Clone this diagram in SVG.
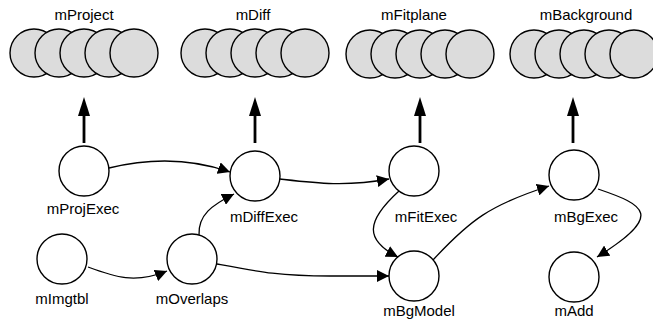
<svg xmlns="http://www.w3.org/2000/svg" width="653" height="320" viewBox="0 0 653 320">
<defs>
<style>
.lbl{font-family:"Liberation Sans",Arial,sans-serif;font-size:15px;fill:#000;text-anchor:middle}
.f{fill:#dcdcdc;stroke:#000;stroke-width:1.4}
.n{fill:#fff;stroke:#000;stroke-width:1.4}
.e{fill:none;stroke:#000;stroke-width:1.3}
.up{stroke:#000;stroke-width:2.8}
</style>
<marker id="ah" viewBox="0 0 10 10" refX="10" refY="5" markerWidth="12" markerHeight="12" markerUnits="userSpaceOnUse" orient="auto">
<path d="M0,0 L10,5 L0,10 z" fill="#000"/>
</marker>
<marker id="big" viewBox="0 0 19 12" refX="0" refY="6" markerWidth="19" markerHeight="12" markerUnits="userSpaceOnUse" orient="auto">
<path d="M0,0 L19,6 L0,12 z" fill="#000"/>
</marker>
</defs>
<g id="mProject">
<circle class="f" cx="34" cy="53" r="24"/><circle class="f" cx="59" cy="53" r="24"/><circle class="f" cx="84" cy="53" r="24"/><circle class="f" cx="109" cy="53" r="24"/><circle class="f" cx="134" cy="53" r="24"/>
<text class="lbl" x="84" y="20">mProject</text>
</g>
<g id="mDiff">
<circle class="f" cx="205" cy="53" r="24"/><circle class="f" cx="230" cy="53" r="24"/><circle class="f" cx="255" cy="53" r="24"/><circle class="f" cx="280" cy="53" r="24"/><circle class="f" cx="305" cy="53" r="24"/>
<text class="lbl" x="253" y="20">mDiff</text>
</g>
<g id="mFitplane">
<circle class="f" cx="370" cy="54" r="24"/><circle class="f" cx="395" cy="54" r="24"/><circle class="f" cx="420" cy="54" r="24"/><circle class="f" cx="445" cy="54" r="24"/><circle class="f" cx="470" cy="54" r="24"/>
<text class="lbl" x="414" y="20">mFitplane</text>
</g>
<g id="mBackground">
<circle class="f" cx="534" cy="54" r="24"/><circle class="f" cx="559" cy="54" r="24"/><circle class="f" cx="584" cy="54" r="24"/><circle class="f" cx="609" cy="54" r="24"/><circle class="f" cx="634" cy="54" r="24"/>
<text class="lbl" x="586" y="20">mBackground</text>
</g>
<g id="mProjExec"><circle class="n" cx="84" cy="171" r="25"/><text class="lbl" x="83" y="214">mProjExec</text></g>
<g id="mDiffExec"><circle class="n" cx="255" cy="176" r="25"/><text class="lbl" x="264" y="222">mDiffExec</text></g>
<g id="mImgtbl"><circle class="n" cx="62" cy="259" r="25"/><text class="lbl" x="62" y="304">mImgtbl</text></g>
<g id="mOverlaps"><circle class="n" cx="192" cy="259" r="25"/><text class="lbl" x="192" y="304">mOverlaps</text></g>
<g id="mFitExec"><circle class="n" cx="414" cy="171" r="25"/><text class="lbl" x="426" y="222">mFitExec</text></g>
<g id="mBgModel"><circle class="n" cx="414" cy="276" r="25"/><text class="lbl" x="419" y="316">mBgModel</text></g>
<g id="mBgExec"><circle class="n" cx="574" cy="175" r="25"/><text class="lbl" x="586" y="222">mBgExec</text></g>
<g id="mAdd"><circle class="n" cx="574" cy="277" r="25"/><text class="lbl" x="574" y="316">mAdd</text></g>
<g id="connectors">
<line class="up" x1="84" y1="143" x2="84" y2="116" marker-end="url(#big)"/>
<line class="up" x1="255" y1="143" x2="255" y2="116" marker-end="url(#big)"/>
<line class="up" x1="420" y1="143" x2="420" y2="116" marker-end="url(#big)"/>
<line class="up" x1="573" y1="143" x2="573" y2="116" marker-end="url(#big)"/>
<path class="e" d="M109,168 C150,158 190,158 230,172" marker-end="url(#ah)"/>
<path class="e" d="M199,235 C198,215 212,205 234,194" marker-end="url(#ah)"/>
<path class="e" d="M88,267 C115,277 135,284 167,271" marker-end="url(#ah)"/>
<path class="e" d="M217,264 C260,272 280,276 330,276 L389,276" marker-end="url(#ah)"/>
<path class="e" d="M280,179 C315,183 345,187 389,179" marker-end="url(#ah)"/>
<path class="e" d="M399,191 C365,222 365,240 398,257" marker-end="url(#ah)"/>
<path class="e" d="M433,260 C470,220 490,205 549,186" marker-end="url(#ah)"/>
<path class="e" d="M598,189 C645,205 665,215 597,257" marker-end="url(#ah)"/>
</g>
</svg>
